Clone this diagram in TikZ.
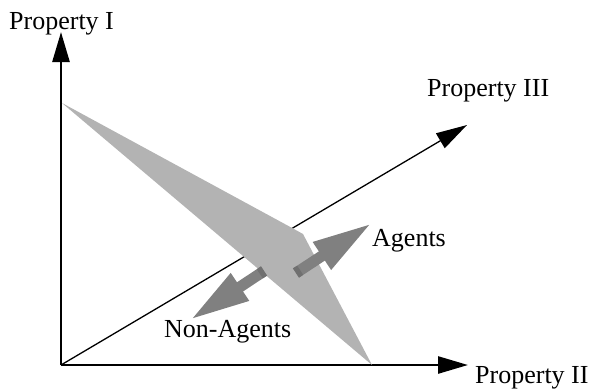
\documentclass[tikz,border=0pt]{standalone}
\usepackage{fontspec}
\setmainfont{Liberation Serif}
\usetikzlibrary{arrows.meta,calc}
\definecolor{regiongray}{HTML}{B3B3B3}
\definecolor{pushgray}{HTML}{808080}
\definecolor{pushgraydark}{HTML}{707070}
\begin{document}
\begin{tikzpicture}[x=1pt,y=-1pt,
  axis/.style={line width=2.6pt,-{Triangle[length=30pt,width=17pt]}},
  diag/.style={line width=1.3pt,-{Triangle[length=31pt,width=17pt]}},
  push/.style={pushgray,line width=11pt,-{Triangle[length=60pt,width=30pt]}},
  pushend/.style={pushgraydark,line width=11pt},
  lbl/.style={font=\fontsize{26}{30}\selectfont,anchor=base west,inner sep=0pt}]
\useasboundingbox (0,0) rectangle (592,389);

% axes
\coordinate (O) at (61,365);
\coordinate (PI) at (61,32);
\coordinate (PII) at (468,365);
\coordinate (PIII) at (467,125);
\draw[diag] (O) -- (PIII);
\draw[axis] (O) -- (PI);
\draw[axis] (O) -- (PII);

% separating region
\coordinate (r1) at (62,103);
\coordinate (r2) at (294,229);
\coordinate (r3) at (303,234);
\coordinate (r4) at (372,365);
\fill[regiongray] (r1) -- (r2) -- (r3) -- (r4) -- cycle;

% opposite pushes
\coordinate (aS) at (296,273);
\coordinate (aT) at (372,223);
\coordinate (nS) at (264,271);
\coordinate (nT) at (190,320);
\draw[push] (aS) -- (aT);
\draw[push] (nS) -- (nT);
\draw[pushend] (aS) -- ($(aS)!5pt!(aT)$);
\draw[pushend] (nS) -- ($(nS)!5pt!(nT)$);

% labels
\node[lbl] (lI) at (9,29) {Property I};
\node[lbl] (lIII) at (427,96) {Property III};
\node[lbl] (lII) at (475,383) {Property II};
\node[lbl] (lA) at (372,246) {Agents};
\node[lbl] (lN) at (164,337) {Non-Agents};
\end{tikzpicture}
\end{document}
